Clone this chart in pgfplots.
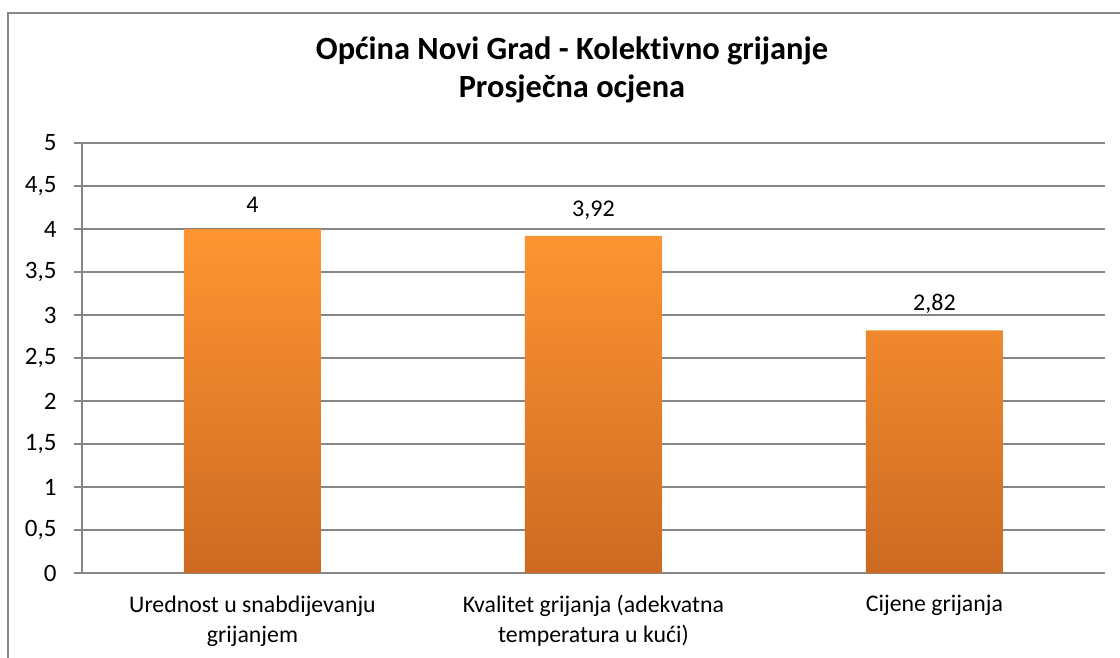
\documentclass[border=0pt]{standalone}
\usepackage{fontspec}
\setmainfont{Carlito}[Ligatures={NoCommon}]
\usepackage{pgfplots}
\pgfplotsset{compat=1.18}
\definecolor{barTop}{RGB}{255,149,50}
\definecolor{barBot}{RGB}{204,106,34}
\definecolor{frameGray}{RGB}{134,134,134}
\begin{document}
\begin{tikzpicture}[x=1pt,y=1pt]
\useasboundingbox (0,0) rectangle (1120,657);
\draw[frameGray, line width=2pt] (8,-10) -- (8,644) -- (1130,644);
\node[anchor=base, font=\bfseries\fontsize{32.4}{38}\selectfont] at (572,597) {Općina Novi Grad - Kolektivno grijanje};
\node[anchor=base, font=\bfseries\fontsize{32.4}{38}\selectfont] at (572,559) {Prosječna ocjena};
\begin{axis}[
  at={(82pt,84pt)}, anchor=south west,
  scale only axis, width=1023pt, height=430pt,
  xmin=-0.5, xmax=2.5, ymin=0, ymax=5,
  ytick={0,0.5,...,5},
  xtick={0,1,2},
  xticklabels={{Urednost u snabdijevanju\\grijanjem},{Kvalitet grijanja (adekvatna\\temperatura u kući)},{Cijene grijanja}},
  xticklabel style={align=center, font=\fontsize{23.8}{30}\selectfont, anchor=north, yshift=-11pt},
  yticklabel style={font=\fontsize{25}{30}\selectfont, anchor=east, xshift=-14pt},
  /pgf/number format/use comma,
  /pgf/number format/assume math mode=true,
  yticklabel={\pgfmathprintnumber[fixed,use comma,assume math mode=true]{\tick}},
  axis x line*=bottom, axis y line*=left,
  axis line style={frameGray, line width=1.5pt},
  ymajorgrids, grid style={frameGray, line width=1.5pt},
  xtick style={draw=none},
  ytick style={frameGray, line width=1.5pt},
  tick align=outside, major tick length=8pt,
  ybar, bar width=137pt,
  nodes near coords,
  nodes near coords style={font=\fontsize{24}{29}\selectfont, black, yshift=13pt,
    /pgf/number format/use comma, /pgf/number format/assume math mode=true},
]
\addplot[draw=none, top color=barTop, bottom color=barBot] coordinates {(0,4) (1,3.92) (2,2.82)};
\end{axis}
\end{tikzpicture}
\end{document}
